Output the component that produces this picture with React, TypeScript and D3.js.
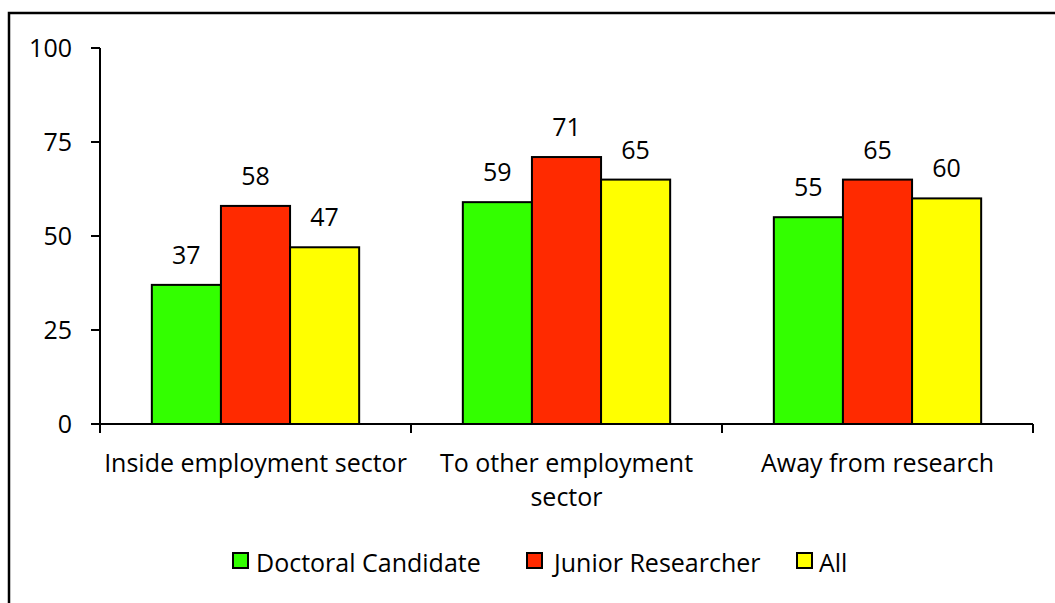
import React from "react";
import * as d3 from "d3";

const categories = [["Inside employment sector"], ["To other employment", "sector"], ["Away from research"]];
const seriesNames = ["Doctoral Candidate", "Junior Researcher", "All"];
const seriesColors = ["#33ff00", "#ff2a00", "#ffff00"];
const doctoral = [37, 59, 55];
const junior = [58, 71, 65];
const all = [47, 65, 60];
const yTicks = [0, 25, 50, 75, 100];

const W = 1055, H = 603;
const FONT = "'Open Sans', Lato, sans-serif";
const FS = 25;

export default function App() {
  const series = [doctoral, junior, all];
  const x = d3.scaleBand<number>().domain([0, 1, 2]).range([100, 1033]);
  const y = d3.scaleLinear().domain([0, 100]).range([424, 48]);
  const bw = x.bandwidth();
  const barW = bw / (3 + 1.5);
  const gap = (bw - 3 * barW) / 2;

  const legendItems = [
    { sx: 233, tx: 256 },
    { sx: 527, tx: 554 },
    { sx: 797, tx: 819 },
  ];

  return (
    <svg width={W} height={H} style={{ position: "absolute", left: 0, top: 0, background: "#fff" }} fontFamily={FONT}>
      <rect x={9} y={13} width={1200} height={800} fill="#fff" stroke="#000" strokeWidth={2.5} />
      {series.map((vals, si) =>
        vals.map((v, ci) => (
          <rect
            key={`${si}-${ci}`}
            x={(x(ci) as number) + gap + si * barW}
            y={y(v)}
            width={barW}
            height={y(0) - y(v)}
            fill={seriesColors[si]}
            stroke="#000"
            strokeWidth={2}
          />
        ))
      )}
      {series.map((vals, si) =>
        vals.map((v, ci) => (
          <text
            key={`l${si}-${ci}`}
            x={(x(ci) as number) + gap + si * barW + barW / 2}
            y={y(v) - 21}
            textAnchor="middle"
            fontSize={FS}
            fill="#000"
          >
            {v}
          </text>
        ))
      )}
      <line x1={100} x2={100} y1={y(100)} y2={y(0)} stroke="#000" strokeWidth={2} />
      {yTicks.map((t) => (
        <g key={t}>
          <line x1={91} x2={100} y1={y(t)} y2={y(t)} stroke="#000" strokeWidth={2} />
          <text x={72} y={y(t) + 9} textAnchor="end" fontSize={FS} fill="#000">
            {t}
          </text>
        </g>
      ))}
      <line x1={91} x2={1033} y1={y(0)} y2={y(0)} stroke="#000" strokeWidth={2} />
      {[0, 1, 2, 3].map((i) => {
        const xx = i < 3 ? (x(i) as number) : 1033;
        return <line key={i} x1={xx} x2={xx} y1={y(0)} y2={y(0) + 9} stroke="#000" strokeWidth={2} />;
      })}
      {categories.map((lines, ci) => (
        <text key={ci} x={(x(ci) as number) + bw / 2} textAnchor="middle" fontSize={FS} fill="#000">
          {lines.map((ln, li) => (
            <tspan key={li} x={(x(ci) as number) + bw / 2} y={472 + li * 34}>
              {ln}
            </tspan>
          ))}
        </text>
      ))}
      {seriesNames.map((name, si) => (
        <g key={name}>
          <rect x={legendItems[si].sx} y={553} width={15} height={15} fill={seriesColors[si]} stroke="#000" strokeWidth={2} />
          <text x={legendItems[si].tx} y={572} fontSize={FS} fill="#000">
            {name}
          </text>
        </g>
      ))}
    </svg>
  );
}
